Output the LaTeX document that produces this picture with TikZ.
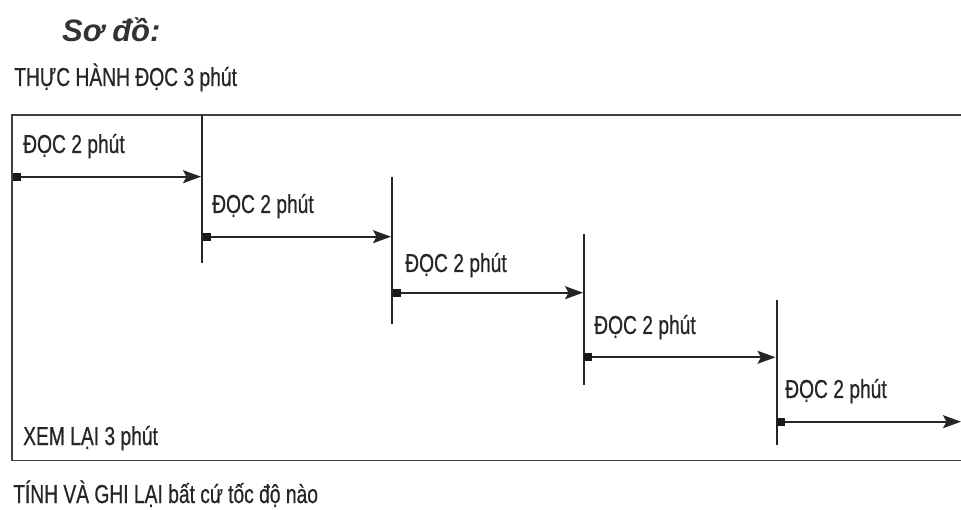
\documentclass[tikz,border=0pt]{standalone}
\usepackage{fontspec}
\setmainfont{Liberation Sans}
\newfontfamily\narrowfont{Liberation Sans}[FakeStretch=0.74,FakeBold=0.6]
\usetikzlibrary{arrows.meta}

\begin{document}
\begin{tikzpicture}[x=1pt,y=-1pt,>={Stealth[length=18pt,width=13pt,inset=3.5pt]}]
\tikzstyle{lbl}=[anchor=base west,inner sep=0pt,text=black!85,font=\narrowfont\fontsize{26}{30}\selectfont]
\tikzstyle{tick}=[line width=1.7pt,draw=black!85]
\tikzstyle{flow}=[->,line width=1.7pt,draw=black!85]
\tikzstyle{startsq}=[fill=black!90,inner sep=0pt,minimum size=8pt,anchor=west]
\useasboundingbox (0,0) rectangle (961,510);
\node[anchor=base west,inner sep=0pt,text=black!80,font=\bfseries\itshape\fontsize{31}{35}\selectfont] (title) at (62,42) {Sơ đồ:};
\node[lbl] (practice) at (14,86) {THỰC HÀNH ĐỌC 3 phút};
% frame, open on the right
\draw[line width=1.9pt,draw=black!75] (961,115) -- (12.3,115) -- (12.3,460.5) -- (961,460.5);
% step lines
\coordinate (t2) at (202.3,115); \coordinate (b2) at (202.3,263);
\coordinate (t3) at (392.3,177); \coordinate (b3) at (392.3,324);
\coordinate (t4) at (584,234); \coordinate (b4) at (584,385);
\coordinate (t5) at (776.7,300); \coordinate (b5) at (776.7,445);
\draw[tick] (t2) -- (b2); \draw[tick] (t3) -- (b3);
\draw[tick] (t4) -- (b4); \draw[tick] (t5) -- (b5);
% reading steps
\node[startsq] (q1) at (12.3,176.7) {}; \coordinate (e1) at (201,176.7);
\node[startsq] (q2) at (202.3,236.7) {}; \coordinate (e2) at (391,236.7);
\node[startsq] (q3) at (392.3,292.7) {}; \coordinate (e3) at (583,292.7);
\node[startsq] (q4) at (584,357.3) {}; \coordinate (e4) at (775.5,357.3);
\node[startsq] (q5) at (776.7,421.7) {}; \coordinate (e5) at (961,421.7);
\draw[flow] (q1) -- (e1); \draw[flow] (q2) -- (e2); \draw[flow] (q3) -- (e3);
\draw[flow] (q4) -- (e4); \draw[flow] (q5) -- (e5);
\node[lbl] (read1) at (23,153) {ĐỌC 2 phút};
\node[lbl] (read2) at (212,213) {ĐỌC 2 phút};
\node[lbl] (read3) at (405,272) {ĐỌC 2 phút};
\node[lbl] (read4) at (594,334) {ĐỌC 2 phút};
\node[lbl] (read5) at (785,398) {ĐỌC 2 phút};
\node[lbl] (review) at (23,445) {XEM LẠI 3 phút};
\node[lbl] (speed) at (13,503) {TÍNH VÀ GHI LẠI bất cứ tốc độ nào};
\end{tikzpicture}
\end{document}
